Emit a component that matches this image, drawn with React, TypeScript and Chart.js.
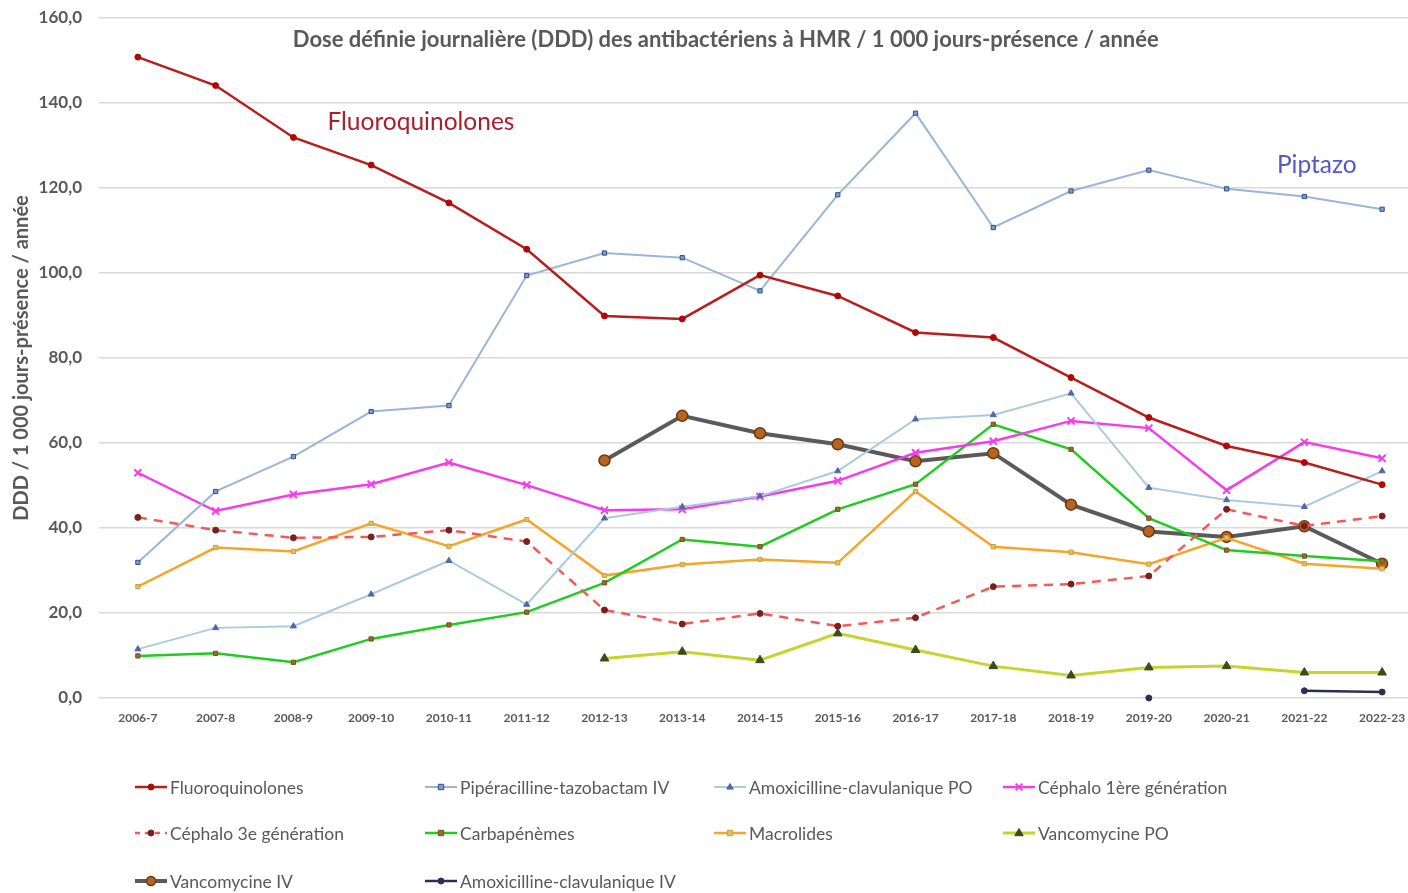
import React, { useEffect, useRef } from "react";
import { Chart, registerables } from "chart.js";

Chart.register(...registerables);

const categories = [
  "2006-7", "2007-8", "2008-9", "2009-10", "2010-11", "2011-12", "2012-13", "2013-14", "2014-15",
  "2015-16", "2016-17", "2017-18", "2018-19", "2019-20", "2020-21", "2021-22", "2022-23",
];

const fluoroquinolones = [150.8, 144.1, 131.9, 125.4, 116.5, 105.6, 89.9, 89.2, 99.5, 94.6, 86.0, 84.8, 75.4, 66.0, 59.3, 55.4, 50.2];
const piperacillineTazobactam = [31.9, 48.6, 56.8, 67.4, 68.8, 99.4, 104.7, 103.6, 95.8, 118.4, 137.6, 110.7, 119.3, 124.2, 119.8, 118.0, 115.0];
const amoxClavPO = [11.5, 16.5, 16.9, 24.4, 32.3, 22.0, 42.3, 45.0, 47.5, 53.4, 65.6, 66.6, 71.7, 49.5, 46.6, 45.0, 53.4];
const cephalo1 = [53.0, 44.0, 47.9, 50.3, 55.4, 50.1, 44.2, 44.4, 47.4, 51.1, 57.7, 60.4, 65.2, 63.5, 48.9, 60.2, 56.4];
const cephalo3 = [42.5, 39.5, 37.7, 37.9, 39.5, 36.8, 20.7, 17.4, 19.9, 16.9, 18.9, 26.2, 26.8, 28.7, 44.4, 40.5, 42.8];
const carbapenemes = [9.9, 10.5, 8.4, 13.9, 17.2, 20.2, 27.1, 37.3, 35.6, 44.4, 50.3, 64.4, 58.5, 42.3, 34.8, 33.4, 32.2];
const macrolides = [26.2, 35.4, 34.5, 41.1, 35.7, 42.0, 28.8, 31.4, 32.6, 31.8, 48.6, 35.6, 34.3, 31.5, 37.7, 31.6, 30.4];
const vancomycinePO = [null, null, null, null, null, null, 9.3, 10.9, 8.9, 15.2, 11.3, 7.5, 5.3, 7.2, 7.5, 6.0, 6.0];
const vancomycineIV = [null, null, null, null, null, null, 55.9, 66.4, 62.3, 59.7, 55.7, 57.6, 45.5, 39.2, 37.9, 40.4, 31.6];
const amoxClavIV = [null, null, null, null, null, null, null, null, null, null, null, null, null, 0.0, null, 1.7, 1.4];

const yMin = 0;
const yMax = 160;
const yStep = 20;

const chartTitle = "Dose définie journalière (DDD) des antibactériens à HMR / 1 000 jours-présence / année";
const yTitle = "DDD / 1 000 jours-présence / année";

const FONT = "Lato, 'Open Sans', sans-serif";
const GREY = "#595959";

type Series = {
  label: string;
  data: (number | null)[];
  color: string;
  width: number;
  dash?: number[];
  pointStyle: string;
  radius: number;
  pointFill: string;
  pointBorder: string;
  pointBorderWidth: number;
};

const series: Series[] = [
  { label: "Fluoroquinolones", data: fluoroquinolones, color: "#B81E1E", width: 2.5, pointStyle: "circle", radius: 3, pointFill: "#C00000", pointBorder: "#9A1010", pointBorderWidth: 1 },
  { label: "Pipéracilline-tazobactam IV", data: piperacillineTazobactam, color: "#9AB5D8", width: 2, pointStyle: "rect", radius: 3, pointFill: "#7F9CC8", pointBorder: "#2F4F8F", pointBorderWidth: 1 },
  { label: "Amoxicilline-clavulanique PO", data: amoxClavPO, color: "#A9CBE0", width: 2, pointStyle: "triangle", radius: 3.5, pointFill: "#5068A8", pointBorder: "#5068A8", pointBorderWidth: 1 },
  { label: "Céphalo 1ère génération", data: cephalo1, color: "#F53CEA", width: 2.5, pointStyle: "crossRot", radius: 5, pointFill: "#F53CEA", pointBorder: "#F53CEA", pointBorderWidth: 2 },
  { label: "Céphalo 3e génération", data: cephalo3, color: "#F25A5A", width: 2.5, dash: [9, 7], pointStyle: "circle", radius: 3, pointFill: "#7A1E1E", pointBorder: "#7A1E1E", pointBorderWidth: 1 },
  { label: "Carbapénèmes", data: carbapenemes, color: "#1FCC1F", width: 2.5, pointStyle: "rect", radius: 3, pointFill: "#9A6A2A", pointBorder: "#7A5020", pointBorderWidth: 1 },
  { label: "Macrolides", data: macrolides, color: "#F5A52A", width: 2.5, pointStyle: "rect", radius: 3, pointFill: "#E2C060", pointBorder: "#C8A040", pointBorderWidth: 1 },
  { label: "Vancomycine PO", data: vancomycinePO, color: "#C4D62E", width: 3, pointStyle: "triangle", radius: 5, pointFill: "#3E4A1E", pointBorder: "#3E4A1E", pointBorderWidth: 1 },
  { label: "Vancomycine IV", data: vancomycineIV, color: "#5A5A5A", width: 4, pointStyle: "circle", radius: 5.5, pointFill: "#B8631E", pointBorder: "#6A3A10", pointBorderWidth: 1.5 },
  { label: "Amoxicilline-clavulanique IV", data: amoxClavIV, color: "#2E2E50", width: 2.5, pointStyle: "circle", radius: 3, pointFill: "#2E2E50", pointBorder: "#2E2E50", pointBorderWidth: 1 },
];

const legendCols = [135, 425, 714, 1003];
const legendRows = [787, 833, 881];

function drawMarker(ctx: CanvasRenderingContext2D, s: Series, x: number, y: number) {
  const r = s.radius;
  ctx.save();
  ctx.fillStyle = s.pointFill;
  ctx.strokeStyle = s.pointBorder;
  ctx.lineWidth = s.pointBorderWidth;
  ctx.setLineDash([]);
  ctx.beginPath();
  if (s.pointStyle === "circle") {
    ctx.arc(x, y, r, 0, Math.PI * 2);
    ctx.fill();
    ctx.stroke();
  } else if (s.pointStyle === "rect") {
    const h = r * 0.9;
    ctx.rect(x - h, y - h, 2 * h, 2 * h);
    ctx.fill();
    ctx.stroke();
  } else if (s.pointStyle === "triangle") {
    ctx.moveTo(x, y - r);
    ctx.lineTo(x + r * 0.95, y + r * 0.6);
    ctx.lineTo(x - r * 0.95, y + r * 0.6);
    ctx.closePath();
    ctx.fill();
    ctx.stroke();
  } else if (s.pointStyle === "crossRot") {
    const d = r * 0.75;
    ctx.moveTo(x - d, y - d);
    ctx.lineTo(x + d, y + d);
    ctx.moveTo(x + d, y - d);
    ctx.lineTo(x - d, y + d);
    ctx.stroke();
  }
  ctx.restore();
}

const overlayPlugin = {
  id: "overlayText",
  afterDraw(chart: any) {
    const ctx: CanvasRenderingContext2D = chart.ctx;
    const xs = chart.scales.x;
    const ys = chart.scales.y;
    ctx.save();
    ctx.textAlign = "center";
    ctx.textBaseline = "middle";
    // chart title
    ctx.fillStyle = GREY;
    ctx.font = `bold 22px ${FONT}`;
    ctx.fillText(chartTitle, xs.getPixelForValue(7.56), ys.getPixelForValue(154.8));
    // annotations
    ctx.font = `24.5px ${FONT}`;
    ctx.fillStyle = "#A8202C";
    ctx.fillText("Fluoroquinolones", xs.getPixelForValue(3.64), ys.getPixelForValue(135.5));
    ctx.fillStyle = "#5656CC";
    ctx.fillText("Piptazo", xs.getPixelForValue(15.16), ys.getPixelForValue(125.4));

    // legend
    ctx.textAlign = "left";
    ctx.font = `17.5px ${FONT}`;
    series.forEach((s, i) => {
      const cx = legendCols[i % 4];
      const cy = legendRows[Math.floor(i / 4)];
      ctx.save();
      ctx.strokeStyle = s.color;
      ctx.lineWidth = s.width;
      ctx.setLineDash(s.dash ? [5, 5] : []);
      ctx.beginPath();
      ctx.moveTo(cx, cy);
      ctx.lineTo(cx + 32, cy);
      ctx.stroke();
      ctx.restore();
      drawMarker(ctx, { ...s, radius: Math.min(s.radius, 4.5) }, cx + 16, cy);
      ctx.fillStyle = GREY;
      ctx.fillText(s.label, cx + 35, cy + 1);
    });
    ctx.restore();
  },
};

export default function App() {
  const canvasRef = useRef<HTMLCanvasElement | null>(null);

  useEffect(() => {
    if (!canvasRef.current) return;
    const chart = new Chart(canvasRef.current, {
      type: "line",
      data: {
        labels: categories,
        datasets: series.map((s) => ({
          label: s.label,
          data: s.data,
          borderColor: s.color,
          backgroundColor: s.color,
          borderWidth: s.width,
          borderDash: s.dash || [],
          pointStyle: s.pointStyle as any,
          pointRadius: s.radius,
          pointBackgroundColor: s.pointFill,
          pointBorderColor: s.pointBorder,
          pointBorderWidth: s.pointBorderWidth,
          tension: 0,
          spanGaps: false,
          fill: false,
          clip: false,
        })),
      },
      options: {
        responsive: false,
        animation: false,
        layout: { padding: { top: 18, bottom: 155, left: 0, right: 0 } },
        plugins: {
          legend: { display: false },
          title: { display: false },
          tooltip: { enabled: false },
        },
        scales: {
          x: {
            type: "category",
            offset: true,
            grid: { display: false, drawTicks: false },
            border: { display: false },
            ticks: {
              color: GREY,
              font: { family: FONT, size: 12, weight: "bold" },
              padding: 13,
              maxRotation: 0,
              autoSkip: false,
            },
            afterFit: (scale: any) => {
              scale.height = 40;
            },
          },
          y: {
            min: yMin,
            max: yMax,
            grid: { color: "#D9D9D9", lineWidth: 1.5, drawTicks: false },
            border: { display: false },
            ticks: {
              stepSize: yStep,
              color: GREY,
              font: { family: FONT, size: 17, weight: "bold" },
              padding: 17,
              callback: (v: any) => Number(v).toFixed(1).replace(".", ","),
            },
            title: {
              display: true,
              text: yTitle,
              color: GREY,
              font: { family: FONT, size: 20, weight: "bold" },
              padding: { top: 10, bottom: 0 },
            },
            afterFit: (scale: any) => {
              scale.width = 99;
              scale.paddingTop = 0;
              scale.paddingBottom = 0;
            },
          },
        },
      },
      plugins: [overlayPlugin],
    });
    return () => chart.destroy();
  }, []);

  return (
    <div style={{ position: "fixed", left: 0, top: 0, width: 1408, height: 893, overflow: "hidden", background: "#ffffff" }}>
      <canvas ref={canvasRef} width={1428} height={893} style={{ display: "block" }} />
    </div>
  );
}
